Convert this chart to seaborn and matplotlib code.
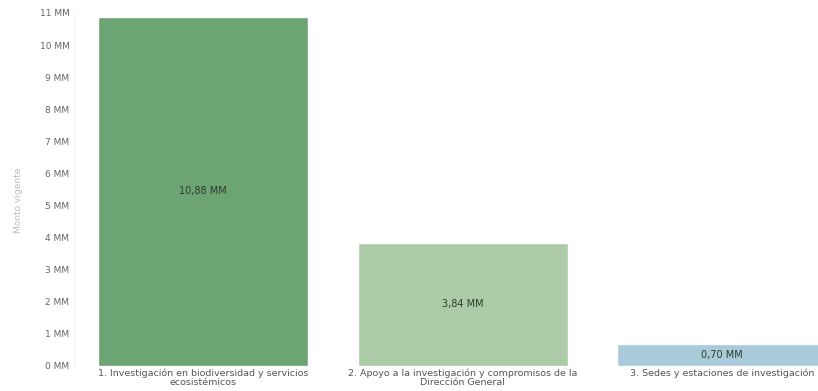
import matplotlib
matplotlib.use("Agg")
import matplotlib.pyplot as plt
import seaborn as sns
import pandas as pd

# datos (miles de millones)
categorias = [
    "1. Investigación en biodiversidad y servicios\necosistémicos",
    "2. Apoyo a la investigación y compromisos de la\nDirección General",
    "3. Sedes y estaciones de investigación",
]
montos = [10.88, 3.84, 0.70]
colores = ["#6da473", "#aacba6", "#a9cbd9"]
ticks_y = list(range(0, 12))

df = pd.DataFrame({"categoria": categorias, "monto": montos})

sns.set_theme(style="white")
plt.rcParams["font.family"] = ["DejaVu Sans"]

fig = plt.figure(figsize=(8.18, 3.91), dpi=100)
ax = fig.add_axes([0.09, 0.064, 0.91, 0.903])

sns.barplot(data=df, x="categoria", y="monto", hue="categoria",
            palette=colores, width=0.81, legend=False, ax=ax, saturation=1)

for p, v in zip(ax.patches, montos):
    ax.text(p.get_x() + p.get_width() / 2, v / 2,
            f"{v:.2f}".replace(".", ",") + " MM",
            ha="center", va="center", fontsize=7, color="#2d3b2e")

ax.set_ylim(0, 11)
ax.set_xlim(-0.5, 2.37)
ax.set_yticks(ticks_y)
ax.set_yticklabels([f"{t} MM" for t in ticks_y], fontsize=6.5, color="#666666")
ax.set_xticks(range(len(categorias)))
ax.set_xticklabels(categorias, fontsize=6.8, color="#555555", linespacing=1.0)
ax.tick_params(axis="both", length=0, pad=3)
ax.tick_params(axis="x", pad=2)
ax.set_xlabel("")
ax.set_ylabel("Monto vigente", fontsize=6.5, color="#bbbbbb")
ax.yaxis.set_label_coords(-0.068, 0.47)

for s in ["top", "right", "bottom"]:
    ax.spines[s].set_visible(False)
ax.spines["left"].set_color("#f0f0f0")
ax.spines["left"].set_linewidth(0.6)

fig.savefig("out.png", dpi=100)
